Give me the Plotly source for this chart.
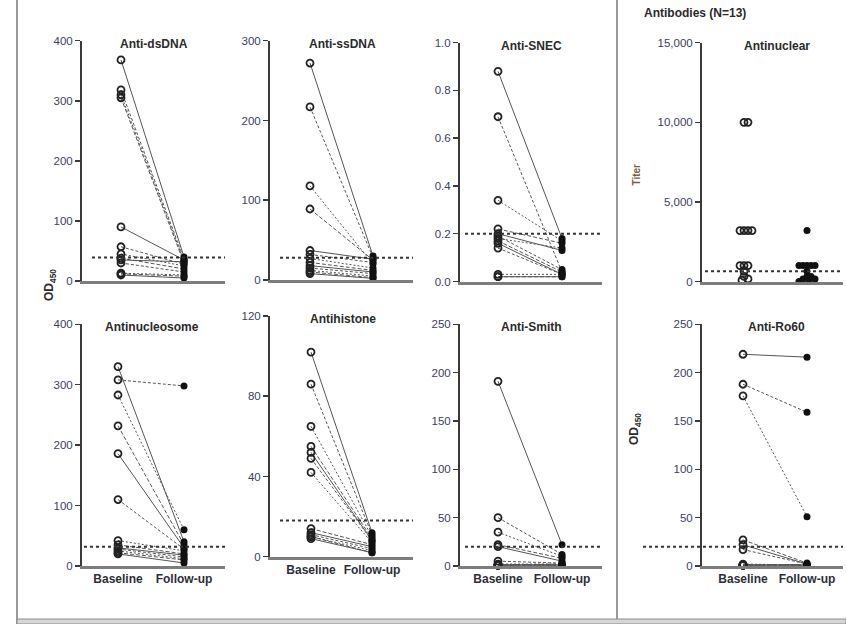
import plotly.graph_objects as go
import numpy as np

W, H = 846, 624

# ---------------- data ----------------
categories = ["Baseline", "Follow-up"]

panel_titles = ["Anti-dsDNA", "Anti-ssDNA", "Anti-SNEC", "Antinuclear",
                "Antinucleosome", "Antihistone", "Anti-Smith", "Anti-Ro60"]

dsdna_base = [368, 318, 310, 305, 90, 57, 45, 38, 35, 30, 13, 12, 10]
dsdna_fu = [40, 36, 33, 30, 35, 28, 25, 20, 32, 15, 10, 8, 5]

ssdna_base = [272, 217, 118, 89, 37, 32, 27, 22, 18, 15, 12, 10, 8]
ssdna_fu = [30, 28, 20, 25, 26, 22, 15, 12, 10, 8, 5, 3, 2]

snec_base = [0.88, 0.69, 0.34, 0.22, 0.20, 0.19, 0.18, 0.17, 0.16, 0.14, 0.03, 0.02, 0.02]
snec_fu = [0.18, 0.04, 0.17, 0.16, 0.13, 0.05, 0.14, 0.04, 0.03, 0.03, 0.03, 0.02, 0.02]

ana_base = [10000, 10000, 3200, 3200, 3200, 3200, 1000, 1000, 1000, 640, 320, 160, 80]
ana_fu = [3200, 1000, 1000, 1000, 1000, 1000, 640, 320, 320, 160, 160, 80, 0]

nucleo_base = [330, 308, 283, 232, 186, 110, 42, 35, 30, 28, 25, 22, 20]
nucleo_fu = [40, 298, 60, 35, 30, 28, 25, 20, 18, 15, 12, 10, 5]

histone_base = [102, 86, 65, 55, 52, 49, 42, 14, 12, 11, 10, 10, 9]
histone_fu = [12, 11, 10, 9, 8, 8, 7, 6, 5, 4, 3, 2, 2]

smith_base = [191, 50, 35, 22, 20, 5, 2, 1, 1, 1, 1, 1, 1]
smith_fu = [22, 12, 10, 8, 5, 3, 2, 2, 1, 1, 1, 1, 1]

ro60_base = [219, 188, 176, 27, 22, 17, 2, 1, 1, 1, 1, 1, 1]
ro60_fu = [216, 159, 51, 3, 2, 2, 1, 1, 1, 1, 1, 1, 1]

thresholds = [39, 28, 0.2, 640, 32, 18, 20, 20]
y_max = [400, 300, 1.0, 15000, 400, 120, 250, 250]
y_dtick = [100, 100, 0.2, 5000, 100, 40, 50, 50]

# ---------------- layout geometry (pixels) ----------------
geo = [
    dict(xl=82, xr=225, bx=121, fx=184, y0=281, yt=40.7, ts=92),
    dict(xl=270, xr=413, bx=310, fx=373, y0=280, yt=40.7, ts=280),
    dict(xl=460, xr=602, bx=498, fx=562, y0=281.5, yt=42.7, ts=465),
    dict(xl=702, xr=843, bx=744, fx=807, y0=281.5, yt=42.7, ts=705),
    dict(xl=82, xr=225, bx=118, fx=184, y0=566, yt=324.3, ts=84),
    dict(xl=270, xr=413, bx=311, fx=372, y0=556.7, yt=316, ts=280),
    dict(xl=460, xr=602, bx=498, fx=562, y0=566, yt=324.3, ts=465),
    dict(xl=702, xr=843, bx=743, fx=807, y0=566, yt=324.3, ts=643),
]

FONT = "Liberation Sans, Arial, Helvetica, sans-serif"
TXT = "#2e2e3a"


def px(x):
    return x / W


def py(y):
    return 1 - y / H


pairs = [(dsdna_base, dsdna_fu), (ssdna_base, ssdna_fu), (snec_base, snec_fu),
         (ana_base, ana_fu), (nucleo_base, nucleo_fu), (histone_base, histone_fu),
         (smith_base, smith_fu), (ro60_base, ro60_fu)]

fig = go.Figure()
dashes = ["solid", "3px,2px", "2px,2px", "4px,2px"]


def beeswarm(vals, g, ymaxv, diam=4.0, step=2):
    """simple beeswarm offsets (in x data units) computed from pixel distances"""
    ux = g["fx"] - g["bx"]
    uy = (g["y0"] - g["yt"]) / ymaxv
    order = sorted(range(len(vals)), key=lambda i: -vals[i])
    placed = []
    offs = [0.0] * len(vals)
    cands = [0]
    for k in range(1, 20):
        cands += [k * step, -k * step]
    for i in order:
        ypx = vals[i] * uy
        for c in cands:
            if all((c - a) ** 2 + (ypx - b) ** 2 >= diam ** 2 for a, b in placed):
                placed.append((c, ypx))
                offs[i] = c / ux
                break
    return offs


layout_axes = {}
shapes = []
annotations = []

for p in range(8):
    g = geo[p]
    idx = p + 1
    xa = "x" if idx == 1 else f"x{idx}"
    ya = "y" if idx == 1 else f"y{idx}"
    xkey = "xaxis" if idx == 1 else f"xaxis{idx}"
    ykey = "yaxis" if idx == 1 else f"yaxis{idx}"
    unit = g["fx"] - g["bx"]
    r0 = (g["xl"] - g["bx"]) / unit
    r1 = (g["xr"] - g["bx"]) / unit
    base, fu = pairs[p]
    bottom = p >= 4

    if p == 3:
        ob = beeswarm(base, g, y_max[p])
        of = beeswarm(fu, g, y_max[p])
        fig.add_trace(go.Scatter(x=[0 + o for o in ob], y=base, xaxis=xa, yaxis=ya,
                                 mode="markers", cliponaxis=False,
                                 marker=dict(symbol="circle-open", size=7, color="#222",
                                             line=dict(width=1.8, color="#222"))))
        fig.add_trace(go.Scatter(x=[1 + o for o in of], y=fu, xaxis=xa, yaxis=ya,
                                 mode="markers", cliponaxis=False,
                                 marker=dict(symbol="circle", size=7, color="#111")))
    else:
        for i, (b, f) in enumerate(zip(base, fu)):
            fig.add_trace(go.Scatter(x=[0, 1], y=[b, f], xaxis=xa, yaxis=ya,
                                     mode="lines", cliponaxis=False,
                                     line=dict(color="#555", width=1,
                                               dash=dashes[i % len(dashes)])))
        fig.add_trace(go.Scatter(x=[0] * len(base), y=base, xaxis=xa, yaxis=ya,
                                 mode="markers", cliponaxis=False,
                                 marker=dict(symbol="circle-open", size=7, color="#222",
                                             line=dict(width=1.8, color="#222"))))
        fig.add_trace(go.Scatter(x=[1] * len(fu), y=fu, xaxis=xa, yaxis=ya,
                                 mode="markers", cliponaxis=False,
                                 marker=dict(symbol="circle", size=7, color="#111")))

    layout_axes[xkey] = dict(
        domain=[px(g["xl"]), px(g["xr"])], range=[r0, r1], anchor=ya,
        showline=True, linecolor="#7d7d7d", linewidth=3, showgrid=False, zeroline=False,
        tickvals=[0, 1], ticktext=[f"<b>{c}</b>" for c in categories], ticks="",
        showticklabels=bottom,
        tickfont=dict(family=FONT, size=12, color=TXT), fixedrange=True,
    )
    tv = list(np.round(np.arange(0, y_max[p] + y_dtick[p] / 2, y_dtick[p]), 6))
    if p == 2:
        tt = [f"{v:.1f}" for v in tv]
    elif p == 3:
        tt = [f"{int(v):,}" for v in tv]
    else:
        tt = [str(int(v)) for v in tv]
    layout_axes[ykey] = dict(
        domain=[py(g["y0"]), py(g["yt"])], range=[0, y_max[p]], anchor=xa,
        showline=True, linecolor="#3a3a3a", linewidth=2, showgrid=False, zeroline=False,
        ticks="outside", ticklen=5, tickwidth=1.5, tickcolor="#3a3a3a",
        tickvals=tv, ticktext=tt, tickfont=dict(family=FONT, size=11.5, color="#3b4060"),
        fixedrange=True,
    )

    shapes.append(dict(type="line", xref=f"{xa} domain", yref=ya,
                       x0=(g["ts"] - g["xl"]) / (g["xr"] - g["xl"]), x1=1,
                       y0=thresholds[p], y1=thresholds[p],
                       line=dict(color="#333", width=2, dash="3px,3px")))
    annotations.append(dict(x=px((g["bx"] + g["fx"]) / 2 + 1), y=py(g["yt"] + 3),
                            xref="paper", yref="paper", text=f"<b>{panel_titles[p]}</b>",
                            showarrow=False, xanchor="center", yanchor="middle",
                            font=dict(family=FONT, size=12, color="#2a2a2a")))

annotations += [
    dict(x=px(40), y=py(285), xref="paper", yref="paper", text="<b>OD<sub>450</sub></b>",
         textangle=-90, showarrow=False, font=dict(family=FONT, size=12, color="#2a2a2a")),
    dict(x=px(645), y=py(447), xref="paper", yref="paper", text="<b>OD<sub>450</sub></b>",
         textangle=-90, showarrow=False, font=dict(family=FONT, size=12, color="#2a2a2a")),
    dict(x=px(644), y=py(162), xref="paper", yref="paper", text="<b>Titer</b>",
         textangle=-90, showarrow=False, font=dict(family=FONT, size=10, color="#7a6040")),
    dict(x=px(642), y=py(13), xref="paper", yref="paper", text="<b>Antibodies (N=13)</b>",
         showarrow=False, xanchor="left", yanchor="middle",
         font=dict(family=FONT, size=12, color="#2a2a2a")),
]

shapes += [
    dict(type="line", xref="paper", yref="paper", x0=px(17), x1=px(17), y0=0, y1=1,
         line=dict(color="#555", width=1.2)),
    dict(type="line", xref="paper", yref="paper", x0=px(617), x1=px(617), y0=py(620), y1=1,
         line=dict(color="#555", width=1.2)),
    dict(type="rect", xref="paper", yref="paper", x0=px(17), x1=1, y0=0, y1=py(619),
         fillcolor="#d6d6d6", line=dict(color="#8a8a8a", width=1)),
]

fig.update_layout(
    width=W, height=H, margin=dict(l=0, r=0, t=0, b=0, autoexpand=False),
    paper_bgcolor="white", plot_bgcolor="rgba(0,0,0,0)",
    showlegend=False, shapes=shapes, annotations=annotations,
    **layout_axes,
)

fig.write_html(
    "out.html",
    config={"displayModeBar": False, "staticPlot": True},
    post_script=(
        "document.documentElement.style.margin='0';"
        "document.documentElement.style.overflow='hidden';"
        "document.body.style.margin='0';"
        "document.body.style.padding='0';"
        "document.body.style.overflow='hidden';"
    ),
)
